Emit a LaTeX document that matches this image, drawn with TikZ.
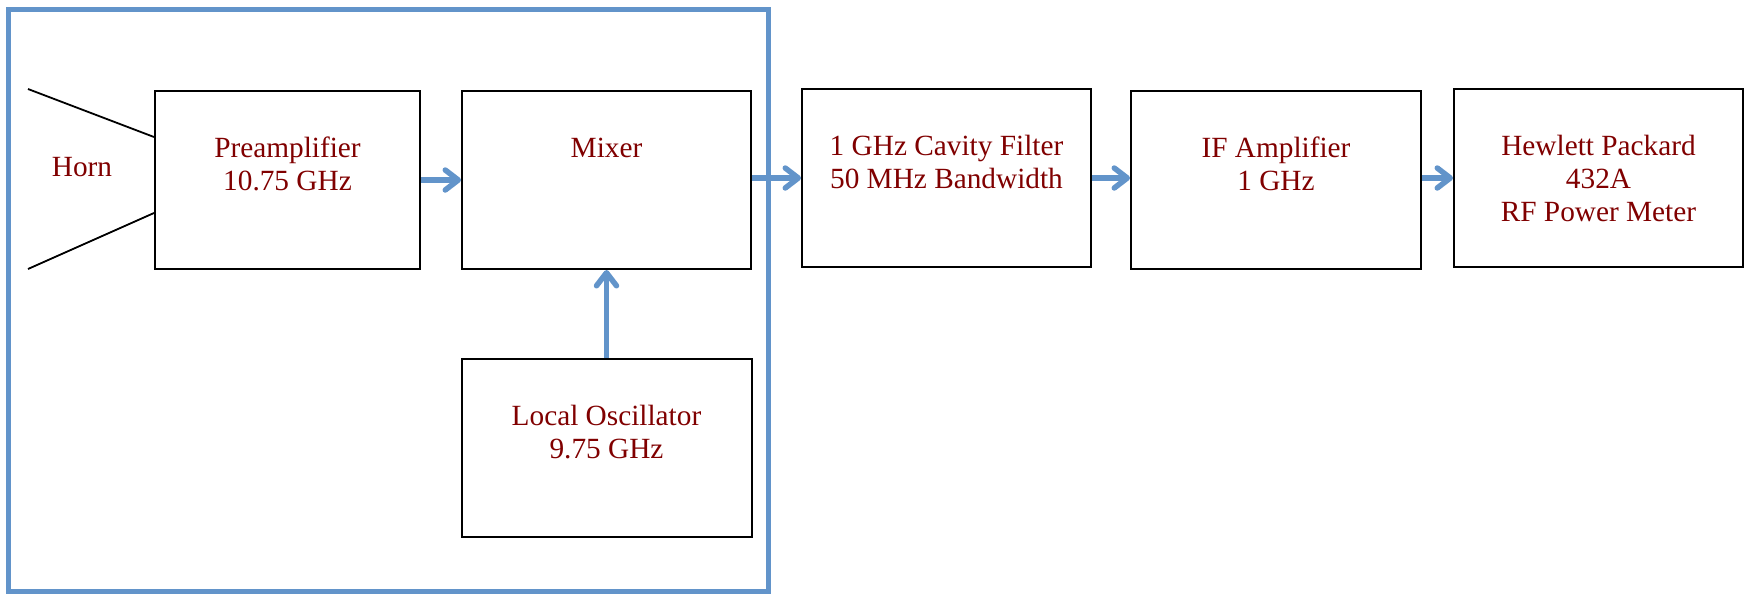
\documentclass[tikz,border=0pt]{standalone}
\usepackage{fontspec}
\setmainfont{Liberation Serif}
\usetikzlibrary{arrows.meta,calc}

\definecolor{labelred}{RGB}{128,0,0}
\definecolor{linkblue}{RGB}{98,148,202}

% text of a block, hung from the top of the box
\newcommand{\blocktext}[2]{\parbox[c][178pt][t]{#1}{\centering\rule{0pt}{66pt}#2}}

\begin{document}
\begin{tikzpicture}[x=1pt, y=-1pt,
    font=\fontsize{29.3}{33}\selectfont,
    block/.style={draw, line width=2pt, inner sep=0pt, text=labelred},
    flow/.style={draw=linkblue, line width=5.5pt,
        -{Straight Barb[length=13pt, width=20pt, line cap=round, line join=round]}},
    frame/.style={draw=linkblue, line width=5pt}]
    \useasboundingbox (0,0) rectangle (1744,595);

    % receiver front end
    \draw[frame] (8,9) rectangle (768,591);

    \node[block] (preamp) at (287.5,180) {\blocktext{265pt}{Preamplifier\\10.75 GHz}};
    \node[block] (mixer) at (606.5,180) {\blocktext{289pt}{Mixer}};
    \node[block] (lo) at (606.5,448) {\blocktext{290pt}{Local Oscillator\\9.75 GHz}};

    % Horn
    \coordinate (mouthtop) at (28,89);
    \coordinate (mouthbot) at (28,269);
    \draw[line width=1.8pt] (mouthtop) -- ($(preamp.west)+(0,-43)$);
    \draw[line width=1.8pt] (mouthbot) -- ($(preamp.west)+(0,33)$);
    \node[text=labelred, inner sep=0pt] (horn) at (82,167) {Horn};

    % IF chain
    \node[block] (cavity) at (946.5,178) {\blocktext{289pt}{1 GHz Cavity Filter\\50 MHz Bandwidth}};
    \node[block] (ifamp) at (1276,180) {\blocktext{290pt}{IF Amplifier\\1 GHz}};
    \node[block] (meter) at (1598.5,178) {\blocktext{289pt}{Hewlett Packard\\432A\\RF Power Meter}};

    \draw[flow] (preamp) -- (mixer);
    \draw[flow] (lo) -- (mixer);
    \draw[flow] (mixer.east |- cavity.west) -- (cavity.west);
    \draw[flow] (cavity.east) -- (cavity.east -| ifamp.west);
    \draw[flow] (ifamp.east |- meter.west) -- (meter.west);
\end{tikzpicture}
\end{document}
